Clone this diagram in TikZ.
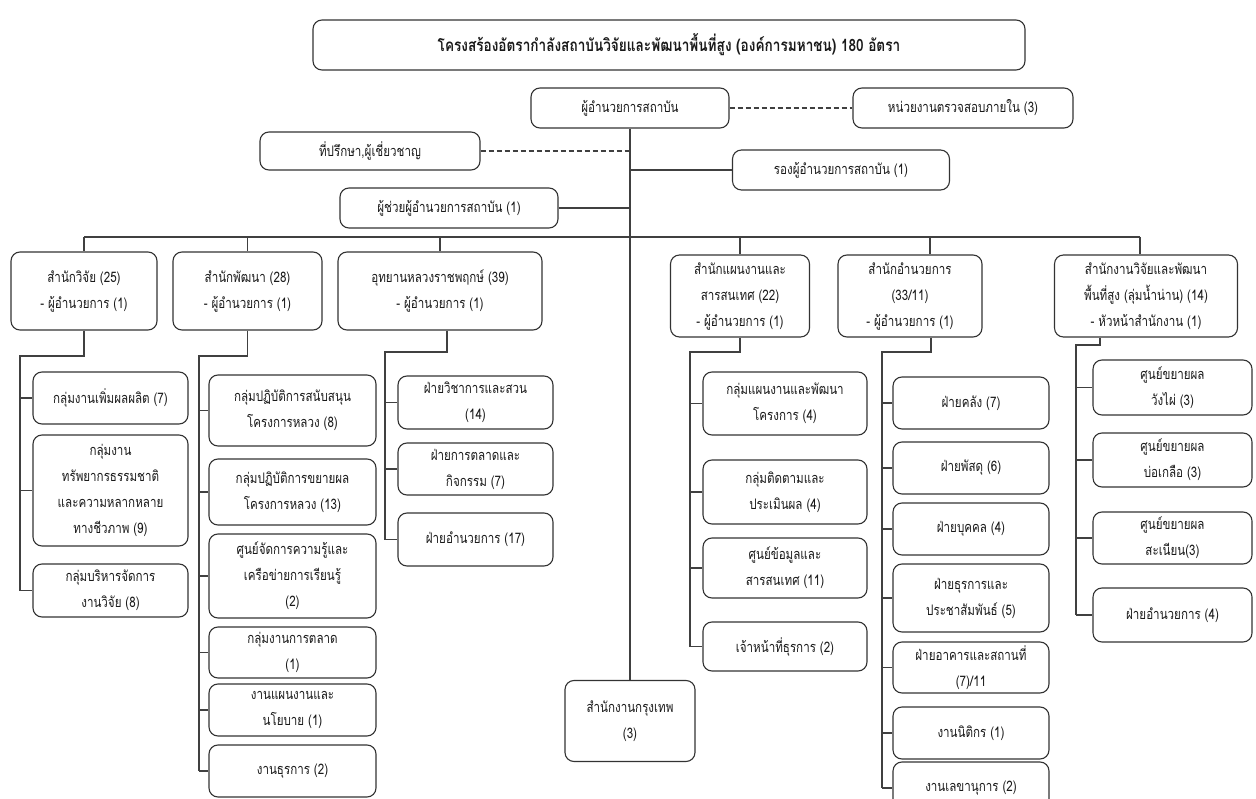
\documentclass[tikz,border=0pt]{standalone}
\usepackage{fontspec}
\newfontfamily\thaifont[Script=Thai,FakeStretch=0.80]{Loma}
\tikzset{
  caja/.style={draw=black!80, line width=1.1pt, rounded corners=9pt, align=center,
    inner sep=2pt, text=black!90, font=\thaifont\fontsize{14.5}{26}\selectfont},
  linea/.style={draw=black!75, line width=1.1pt},
}
\begin{document}
\begin{tikzpicture}[x=1pt, y=-1pt]
    \useasboundingbox (0,0) rectangle (1256,799);
    \clip (0,0) rectangle (1256,799);

    % Titulo
    \node[caja, font=\thaifont\bfseries\fontsize{17}{26}\selectfont, minimum width=712, minimum height=50] (titulo) at (669,45) {โครงสร้องอัตรากำลังสถาบันวิจัยและพัฒนาพื้นที่สูง (องค์การมหาชน) 180 อัตรา};

    % Direccion
    \node[caja, minimum width=198, minimum height=40] (director) at (630,108) {ผู้อำนวยการสถาบัน};
    \node[caja, minimum width=220, minimum height=40] (auditoria) at (963,108) {หน่วยงานตรวจสอบภายใน (3)};
    \node[caja, minimum width=220, minimum height=38] (asesor) at (370,151) {ที่ปรึกษา,ผู้เชี่ยวชาญ};
    \node[caja, minimum width=217, minimum height=40] (subdir) at (841,170) {รองผู้อำนวยการสถาบัน (1)};
    \node[caja, minimum width=218, minimum height=40] (asistente) at (449,208) {ผู้ช่วยผู้อำนวยการสถาบัน (1)};
    \node[caja, minimum width=130, minimum height=81] (bangkok) at (630,721) {สำนักงานกรุงเทพ\\(3)};

    \draw[linea, dash pattern=on 5pt off 3pt] (director) -- (auditoria);
    \draw[linea] (director) -- (bangkok);
    \draw[linea, dash pattern=on 5pt off 3pt] (asesor) -- (asesor -| director);
    \draw[linea] (subdir -| director) -- (subdir);
    \draw[linea] (asistente) -- (asistente -| director);

    % Oficinas
    \node[caja, minimum width=146, minimum height=78] (investig) at (84,291) {สำนักวิจัย (25)\\- ผู้อำนวยการ (1)};
    \node[caja, minimum width=149, minimum height=78] (desarrollo) at (247.5,291) {สำนักพัฒนา (28)\\- ผู้อำนวยการ (1)};
    \node[caja, minimum width=204, minimum height=78] (parque) at (440,291) {อุทยานหลวงราชพฤกษ์ (39)\\- ผู้อำนวยการ (1)};
    \node[caja, minimum width=139, minimum height=82] (planes) at (740,296) {สำนักแผนงานและ\\สารสนเทศ (22)\\- ผู้อำนวยการ (1)};
    \node[caja, minimum width=144, minimum height=82] (admin) at (910,296) {สำนักอำนวยการ\\(33/11)\\- ผู้อำนวยการ (1)};
    \node[caja, minimum width=183, minimum height=82] (nan) at (1146,296) {สำนักงานวิจัยและพัฒนา\\พื้นที่สูง (ลุ่มน้ำน่าน) (14)\\- หัวหน้าสำนักงาน (1)};

    \coordinate (barra) at (630,237);
    \draw[linea] (investig.north |- barra) -- ([xshift=-6]nan.north |- barra);
    \foreach \n in {investig,desarrollo,parque,planes}
        \draw[linea] (\n.north |- barra) -- (\n.north);
    \draw[linea] ([xshift=20]admin.north |- barra) -- ([xshift=20]admin.north);
    \draw[linea] ([xshift=-6]nan.north |- barra) -- ([xshift=-6]nan.north);

    % Grupos de la oficina de investigacion
    \node[caja, minimum width=155, minimum height=52] (inv1) at (110.5,398) {กลุ่มงานเพิ่มผลผลิต (7)};
    \node[caja, minimum width=155, minimum height=111] (inv2) at (110.5,490.5) {กลุ่มงาน\\ทรัพยากรธรรมชาติ\\และความหลากหลาย\\ทางชีวภาพ (9)};
    \node[caja, minimum width=155, minimum height=53] (inv3) at (110.5,590.5) {กลุ่มบริหารจัดการ\\งานวิจัย (8)};

    \coordinate (v1) at (20,356);
    \draw[linea] (investig.south) |- (v1) -- (v1 |- inv3.west);
    \foreach \n in {inv1,inv2,inv3}
        \draw[linea] (v1 |- \n.west) -- (\n.west);

    % Grupos de la oficina de desarrollo
    \node[caja, minimum width=167, minimum height=71] (des1) at (292.5,410.5) {กลุ่มปฏิบัติการสนับสนุน\\โครงการหลวง (8)};
    \node[caja, minimum width=167, minimum height=66] (des2) at (292.5,492) {กลุ่มปฏิบัติการขยายผล\\โครงการหลวง (13)};
    \node[caja, minimum width=167, minimum height=84] (des3) at (292.5,576) {ศูนย์จัดการความรู้และ\\เครือข่ายการเรียนรู้\\(2)};
    \node[caja, minimum width=167, minimum height=51] (des4) at (292.5,652.5) {กลุ่มงานการตลาด\\(1)};
    \node[caja, minimum width=167, minimum height=52] (des5) at (292.5,710) {งานแผนงานและ\\นโยบาย (1)};
    \node[caja, minimum width=167, minimum height=52] (des6) at (292.5,771) {งานธุรการ (2)};

    \coordinate (v2) at (199,356);
    \draw[linea] (desarrollo.south) |- (v2) -- (v2 |- des6.west);
    \foreach \n in {des1,des2,des3,des4,des5,des6}
        \draw[linea] (v2 |- \n.west) -- (\n.west);

    % Secciones del parque
    \node[caja, minimum width=155, minimum height=53] (par1) at (475.5,402.5) {ฝ่ายวิชาการและสวน\\(14)};
    \node[caja, minimum width=155, minimum height=52] (par2) at (475.5,469) {ฝ่ายการตลาดและ\\กิจกรรม (7)};
    \node[caja, minimum width=155, minimum height=53] (par3) at (475.5,539.5) {ฝ่ายอำนวยการ (17)};

    \coordinate (v3) at (385,352);
    \draw[linea] ([xshift=7]parque.south) |- (v3) -- (v3 |- par3.west);
    \foreach \n in {par1,par2,par3}
        \draw[linea] (v3 |- \n.west) -- (\n.west);

    % Grupos de planificacion
    \node[caja, minimum width=164, minimum height=63] (pla1) at (785,403.5) {กลุ่มแผนงานและพัฒนา\\โครงการ (4)};
    \node[caja, minimum width=164, minimum height=64] (pla2) at (785,492) {กลุ่มติดตามและ\\ประเมินผล (4)};
    \node[caja, minimum width=164, minimum height=60] (pla3) at (785,568) {ศูนย์ข้อมูลและ\\สารสนเทศ (11)};
    \node[caja, minimum width=164, minimum height=49] (pla4) at (785,646.5) {เจ้าหน้าที่ธุรการ (2)};

    \coordinate (v4) at (690,352);
    \draw[linea] (planes.south) |- (v4) -- (v4 |- pla4.west);
    \foreach \n in {pla1,pla2,pla3,pla4}
        \draw[linea] (v4 |- \n.west) -- (\n.west);

    % Secciones administrativas
    \node[caja, minimum width=156, minimum height=52] (adm1) at (971,403) {ฝ่ายคลัง (7)};
    \node[caja, minimum width=156, minimum height=52] (adm2) at (971,468) {ฝ่ายพัสดุ (6)};
    \node[caja, minimum width=156, minimum height=52] (adm3) at (971,529) {ฝ่ายบุคคล (4)};
    \node[caja, minimum width=156, minimum height=68] (adm4) at (971,598) {ฝ่ายธุรการและ\\ประชาสัมพันธ์ (5)};
    \node[caja, minimum width=156, minimum height=51] (adm5) at (971,667.5) {ฝ่ายอาคารและสถานที่\\(7)/11};
    \node[caja, minimum width=156, minimum height=52] (adm6) at (971,733) {งานนิติกร (1)};
    \node[caja, minimum width=156, minimum height=52] (adm7) at (971,788) {งานเลขานุการ (2)};

    \coordinate (v5) at (882,352);
    \draw[linea] ([xshift=21]admin.south) |- (v5) -- (v5 |- adm7.west);
    \foreach \n in {adm1,adm2,adm3,adm4,adm5,adm6,adm7}
        \draw[linea] (v5 |- \n.west) -- (\n.west);

    % Centros de Nan
    \node[caja, minimum width=159, minimum height=55] (nan1) at (1172.5,387.5) {ศูนย์ขยายผล\\วังไผ่ (3)};
    \node[caja, minimum width=159, minimum height=54] (nan2) at (1172.5,460) {ศูนย์ขยายผล\\บ่อเกลือ (3)};
    \node[caja, minimum width=159, minimum height=52] (nan3) at (1172.5,538) {ศูนย์ขยายผล\\สะเนียน(3)};
    \node[caja, minimum width=159, minimum height=54] (nan4) at (1172.5,615) {ฝ่ายอำนวยการ (4)};

    \coordinate (v6) at (1076,345);
    \draw[linea] ([xshift=-46]nan.south) |- (v6) -- (v6 |- nan4.west);
    \foreach \n in {nan1,nan2,nan3,nan4}
        \draw[linea] (v6 |- \n.west) -- (\n.west);
\end{tikzpicture}
\end{document}
